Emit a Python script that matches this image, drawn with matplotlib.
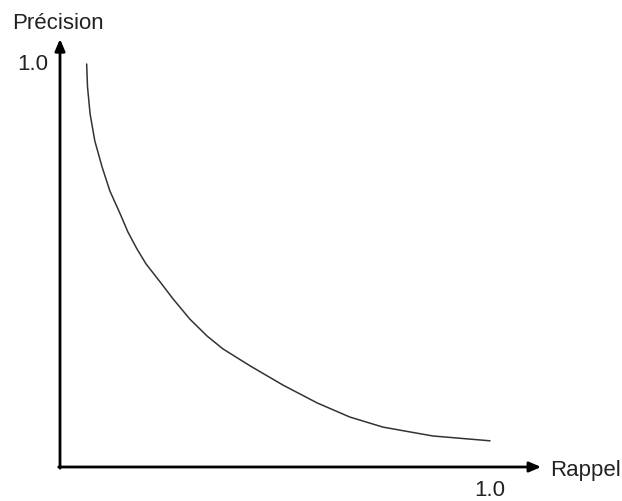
import matplotlib
matplotlib.use("Agg")
import matplotlib.pyplot as plt

# precision / recall curve
rappel = [0.062, 0.064, 0.070, 0.081, 0.098, 0.116, 0.140, 0.158, 0.179, 0.200,
          0.233, 0.263, 0.302, 0.342, 0.379, 0.442, 0.519, 0.598, 0.674, 0.751,
          0.814, 0.867, 1.0]
precision = [1.000, 0.943, 0.876, 0.809, 0.744, 0.685, 0.628, 0.583, 0.541, 0.504,
             0.459, 0.417, 0.367, 0.325, 0.293, 0.251, 0.203, 0.159, 0.124, 0.099,
             0.087, 0.077, 0.065]

x_label = "Rappel"
y_label = "Précision"
tick_label = "1.0"

plt.rcParams["font.family"] = ["Liberation Sans", "DejaVu Sans"]

fig = plt.figure(figsize=(6.22, 5.02), dpi=100)
ax = fig.add_axes([0, 0, 1, 1])
ax.set_xlim(-60 / 430, 562 / 430)
ax.set_ylim(-34 / 403, 468 / 403)
ax.axis("off")

ax.plot(rappel, precision, color="#333333", lw=1.1,
        solid_capstyle="round", solid_joinstyle="round")

arrow = dict(arrowstyle="-|>,head_length=0.7,head_width=0.3", color="black",
             lw=2, shrinkA=0, shrinkB=0)
ax.annotate("", xy=(0, 1.062), xytext=(0, -0.003), arrowprops=arrow)
ax.annotate("", xy=(1.119, 0), xytext=(-0.003, 0), arrowprops=arrow)

txt = dict(fontsize=16, color="#222222")
ax.text(-0.005, 1.102, y_label, ha="center", va="center", **txt)
ax.text(-0.063, 1.0, tick_label, ha="center", va="center", **txt)
ax.text(1.14, -0.005, x_label, ha="left", va="center", **txt)
ax.text(1.0, -0.055, tick_label, ha="center", va="center", **txt)

fig.savefig("out.png", dpi=100)
